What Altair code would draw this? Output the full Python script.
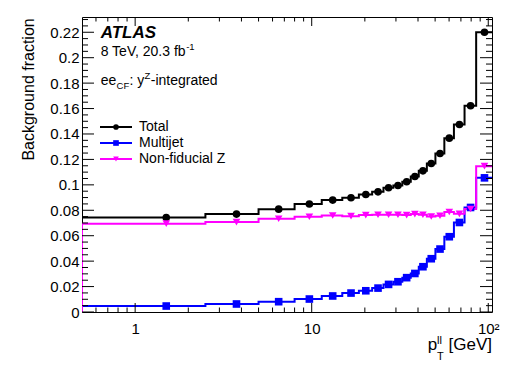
import altair as alt
import pandas as pd

# ---------------- data ----------------
bin_low = [0.5, 2.5, 5.0, 8.0, 11.4, 14.9, 18.5, 22.0, 25.5, 29.0, 32.6, 36.4,
           40.4, 44.9, 50.2, 56.4, 63.9, 73.4, 85.4]
bin_high_last = 105.0
bin_center = [1.5, 3.75, 6.5, 9.7, 13.15, 16.7, 20.25, 23.75, 27.25, 30.8, 34.5,
              38.4, 42.65, 47.55, 53.3, 60.15, 68.65, 79.4, 95.2]
total = [0.0743, 0.0770, 0.0809, 0.0849, 0.0880, 0.0898, 0.0924, 0.0945, 0.0977,
         0.0995, 0.1024, 0.1066, 0.1110, 0.1168, 0.1246, 0.1367, 0.1475, 0.1622, 0.2200]
multijet = [0.0047, 0.0063, 0.0081, 0.0102, 0.0126, 0.0149, 0.0167, 0.0188, 0.0217,
            0.0238, 0.0270, 0.0303, 0.0356, 0.0419, 0.0495, 0.0592, 0.0704, 0.0822, 0.1055]
nonfid = [0.0695, 0.0707, 0.0733, 0.0749, 0.0759, 0.0754, 0.0762, 0.0765, 0.0765,
          0.0765, 0.0762, 0.0770, 0.0765, 0.0751, 0.0757, 0.0786, 0.0772, 0.0810, 0.1147]

series_names = ["Total", "Multijet", "Non-fiducial Z"]
series_values = [total, multijet, nonfid]
series_colors = ["#000000", "#0000ff", "#ff00ff"]
series_shapes = ["circle", "square", "triangle-down"]

x_major = [1, 10, 100]
x_minor = [0.6, 0.7, 0.8, 0.9, 2, 3, 4, 5, 6, 7, 8, 9,
           20, 30, 40, 50, 60, 70, 80, 90]
y_major = [0, 0.02, 0.04, 0.06, 0.08, 0.10, 0.12, 0.14, 0.16, 0.18, 0.20, 0.22]
y_minor = [0.005, 0.01, 0.015, 0.025, 0.03, 0.035, 0.045, 0.05, 0.055, 0.065, 0.07,
           0.075, 0.085, 0.09, 0.095, 0.105, 0.11, 0.115, 0.125, 0.13, 0.135, 0.145,
           0.15, 0.155, 0.165, 0.17, 0.175, 0.185, 0.19, 0.195, 0.205, 0.21, 0.215,
           0.225, 0.23]

# ---------------- layout ----------------
W, H = 410, 295
FONT = "Liberation Sans"
X_DOMAIN = [0.5, 105]
Y_DOMAIN = [0, 0.232]

HW = {' ': 278, ',': 278, '-': 333, '.': 278, ':': 278, '[': 278, ']': 278,
      'C': 722, 'F': 611, 'G': 778, 'T': 611, 'V': 667, 'Z': 611,
      'a': 556, 'b': 556, 'd': 556, 'e': 556, 'f': 278, 'g': 556, 'i': 222,
      'l': 222, 'n': 556, 'p': 556, 'r': 333, 't': 278, 'y': 500}


def tw(s, size):
    return sum(HW.get(c, 556) for c in s) * size / 1000.0


xaxis = alt.Axis(values=x_major, ticks=False, domain=False, grid=False, title=None,
                 labelFont=FONT, labelFontSize=15, labelColor="black", labelPadding=9,
                 labelExpr="datum.value >= 100 ? '10²' : format(datum.value, '~g')")
yaxis = alt.Axis(values=y_major, ticks=False, domain=False, grid=False, title=None,
                 labelFont=FONT, labelFontSize=15, labelColor="black", labelPadding=3,
                 labelExpr="format(datum.value, '.2~f')")


def xenc(field):
    return alt.X(f"{field}:Q", scale=alt.Scale(type="log", domain=X_DOMAIN, nice=False),
                 axis=xaxis)


def yenc(field):
    return alt.Y(f"{field}:Q", scale=alt.Scale(domain=Y_DOMAIN, nice=False), axis=yaxis)


layers = []

# step histograms
for name, vals, col in zip(series_names, series_values, series_colors):
    xs = [bin_low[0]] + bin_low + [bin_high_last]
    ys = [0.0] + vals + [vals[-1]]
    df = pd.DataFrame({"x": xs, "y": ys, "i": list(range(len(xs)))})
    layers.append(
        alt.Chart(df).mark_line(interpolate="step-after", color=col, strokeWidth=2, clip=True)
        .encode(x=xenc("x"), y=yenc("y"), order="i:Q")
    )

# markers
for name, vals, col, shp in zip(series_names, series_values, series_colors, series_shapes):
    df = pd.DataFrame({"x": bin_center, "y": vals})
    layers.append(
        alt.Chart(df).mark_point(shape=shp, filled=True, color=col, size=58, opacity=1)
        .encode(x=xenc("x"), y=yenc("y"))
    )

# inward ticks
def xticks(vals, length):
    df = pd.DataFrame({"v": vals})
    return [
        alt.Chart(df).mark_rule(color="black", strokeWidth=1)
        .encode(x=xenc("v"), y=alt.value(H), y2=alt.value(H - length)),
        alt.Chart(df).mark_rule(color="black", strokeWidth=1)
        .encode(x=xenc("v"), y=alt.value(0), y2=alt.value(length)),
    ]


def yticks(vals, length):
    df = pd.DataFrame({"v": vals})
    return [
        alt.Chart(df).mark_rule(color="black", strokeWidth=1)
        .encode(y=yenc("v"), x=alt.value(0), x2=alt.value(length)),
        alt.Chart(df).mark_rule(color="black", strokeWidth=1)
        .encode(y=yenc("v"), x=alt.value(W), x2=alt.value(W - length)),
    ]


layers += xticks(x_major, 9) + xticks(x_minor, 4.5)
layers += yticks(y_major, 12) + yticks(y_minor, 6)

one = pd.DataFrame({"a": [0]})


def txt(s, x, y, size, **kw):
    return alt.Chart(one).mark_text(text=s, font=FONT, fontSize=size, color="black",
                                    align=kw.pop("align", "left"),
                                    baseline=kw.pop("baseline", "alphabetic"), **kw) \
        .encode(x=alt.value(x), y=alt.value(y))


# legend
leg_y = [110, 126, 142]
for name, col, shp, ly in zip(series_names, series_colors, series_shapes, leg_y):
    layers.append(alt.Chart(one).mark_rule(color=col, strokeWidth=2)
                  .encode(x=alt.value(18), x2=alt.value(50), y=alt.value(ly)))
    layers.append(alt.Chart(one).mark_point(shape=shp, filled=True, color=col, size=32, opacity=1)
                  .encode(x=alt.value(34), y=alt.value(ly)))
    layers.append(txt(name, 57, ly, 14, baseline="middle"))

# annotations
X0 = 18.7
layers.append(txt("ATLAS", X0, 20.5, 17, fontWeight="bold", fontStyle="italic"))
s2 = "8 TeV, 20.3 fb"
layers.append(txt(s2, X0, 39, 14))
layers.append(txt("-1", X0 + tw(s2, 14) - 2.5, 33, 9.5))

x = X0
layers.append(txt("ee", x, 68, 14)); x += tw("ee", 14) + 0.3
layers.append(txt("CF", x, 72, 9.5)); x += tw("CF", 9.5) + 0.3
layers.append(txt(": y", x, 68, 14)); x += tw(": y", 14) + 0.3
layers.append(txt("Z", x, 62, 9.5)); x += tw("Z", 9.5) + 0.3
layers.append(txt("-integrated", x, 68, 14))

# x axis title  p_T^ll [GeV]
gev = " [GeV]"
xr = W
layers.append(txt(gev, xr, 333, 17, align="right"))
xs_ = xr - tw(gev, 17)
stack_w = max(tw("T", 11), tw("ll", 11))
layers.append(txt("T", xs_ - stack_w, 343, 11))
layers.append(txt("ll", xs_ - stack_w, 327, 11))
layers.append(txt("p", xs_ - stack_w - tw("p", 17), 333, 17))

# y axis title
layers.append(txt("Background fraction", -48, 1.3, 16, angle=270, align="right"))

chart = alt.layer(*layers).properties(
    width=W, height=H,
    autosize=alt.AutoSizeParams(type="none"),
    padding={"left": 74, "top": 9, "right": 18, "bottom": 52},
).configure_view(stroke="black", strokeWidth=1)

chart.save("out.html", embed_options={"renderer": "svg", "actions": False})
